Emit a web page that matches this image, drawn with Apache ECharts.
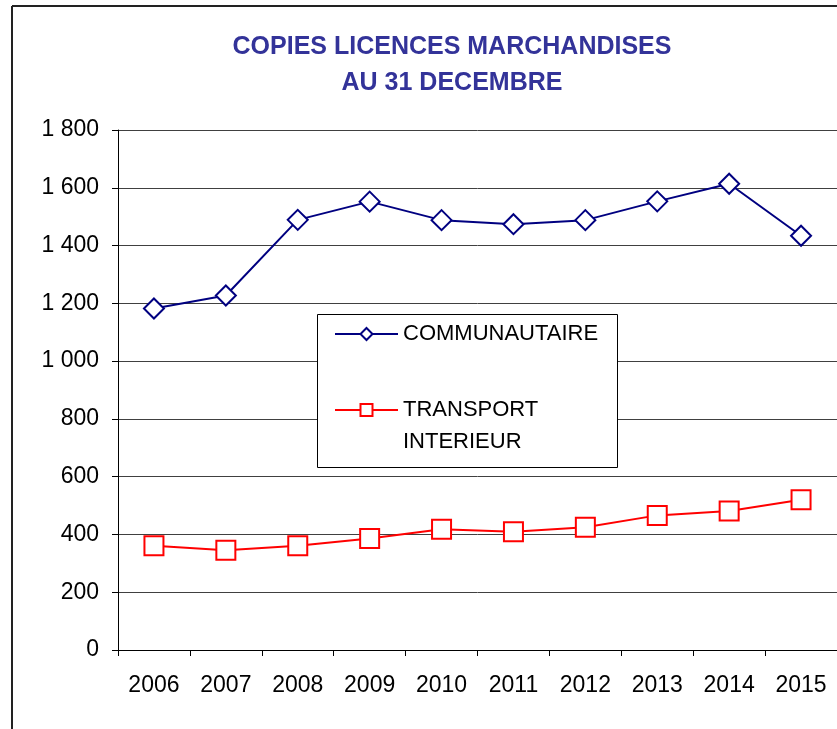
<!DOCTYPE html>
<html>
<head>
<meta charset="utf-8">
<script src="https://cdn.jsdelivr.net/npm/echarts@6/dist/echarts.min.js"></script>
<style>
  html, body { margin: 0; padding: 0; background: #fff; }
  #chart { width: 837px; height: 729px; }
</style>
</head>
<body>
<div id="chart"></div>
<script>
var years = ['2006', '2007', '2008', '2009', '2010', '2011', '2012', '2013', '2014', '2015'];
var communautaire = [1182, 1227, 1489, 1552, 1488, 1474, 1488, 1553, 1614, 1434];
var transport = [361, 345, 361, 386, 418, 409, 425, 466, 481, 520];
var seriesNames = ['COMMUNAUTAIRE', 'TRANSPORT INTERIEUR'];
var titleLines = ['COPIES LICENCES MARCHANDISES', 'AU 31 DECEMBRE'];

var FONT = '"Liberation Sans", Arial, sans-serif';

var chart = echarts.init(document.getElementById('chart'));

// "1800" -> "1 800"
var fmt_thousands = function (v) {
    return String(v).replace(/\B(?=(\d{3})+(?!\d))/g, ' ');
};

var option = {
    animation: false,
    backgroundColor: '#fff',
    title: {
        text: titleLines.join('\n'),
        left: 452,
        top: 29,
        padding: 0,
        textAlign: 'center',
        textStyle: {
            fontFamily: FONT,
            fontSize: 25,
            fontWeight: 'bold',
            color: '#333399',
            lineHeight: 36
        }
    },
    grid: {
        left: 118,
        right: 0,
        top: 130,
        bottom: 79,
        containLabel: false
    },
    legend: {
        orient: 'vertical',
        left: 334,
        top: 318,
        padding: 0,
        itemWidth: 63,
        itemHeight: 15,
        itemGap: 12,
        data: seriesNames,
        // blank first line keeps the icon level with "TRANSPORT"
        formatter: function (name) {
            return name === seriesNames[1] ? ' \nTRANSPORT\nINTERIEUR' : name;
        },
        textStyle: {
            fontFamily: FONT,
            fontSize: 22,
            color: '#000',
            lineHeight: 32
        }
    },
    xAxis: {
        type: 'category',
        data: years,
        boundaryGap: true,
        axisLine: { lineStyle: { color: '#000', width: 1 } },
        axisTick: { show: true, length: 6, alignWithLabel: false, lineStyle: { color: '#000' } },
        axisLabel: {
            margin: 24,
            fontFamily: FONT,
            fontSize: 23,
            color: '#000'
        },
        splitLine: { show: false }
    },
    yAxis: {
        type: 'value',
        min: 0,
        max: 1800,
        interval: 200,
        axisLine: { show: true, lineStyle: { color: '#000', width: 1 } },
        axisTick: { show: true, length: 6, inside: false, lineStyle: { color: '#000' } },
        axisLabel: {
            margin: 19,
            fontFamily: FONT,
            fontSize: 23,
            color: '#000',
            formatter: fmt_thousands
        },
        splitLine: { show: true, lineStyle: { color: '#404040', width: 1 } }
    },
    series: [
        {
            name: seriesNames[0],
            type: 'line',
            data: communautaire,
            symbol: 'diamond',
            symbolSize: 20,
            showAllSymbol: true,
            lineStyle: { color: '#000080', width: 2 },
            itemStyle: { color: '#fff', borderColor: '#000080', borderWidth: 2 },
            emphasis: { disabled: true }
        },
        {
            name: seriesNames[1],
            type: 'line',
            data: transport,
            symbol: 'rect',
            symbolSize: 19,
            showAllSymbol: true,
            lineStyle: { color: '#ff0000', width: 2 },
            itemStyle: { color: '#fff', borderColor: '#ff0000', borderWidth: 2 },
            emphasis: { disabled: true }
        }
    ],
    graphic: [
        // outer frame (top and left edges only, as in the scan)
        { type: 'line', shape: { x1: 12, y1: 6, x2: 837, y2: 6 }, style: { stroke: '#222', lineWidth: 2 } },
        { type: 'line', shape: { x1: 12, y1: 6, x2: 12, y2: 729 }, style: { stroke: '#222', lineWidth: 2 } },
        // legend box
        { type: 'rect', shape: { x: 317.5, y: 314.5, width: 300, height: 153 }, style: { fill: '#fff', stroke: '#000', lineWidth: 1 }, z: 3 }
    ]
};

chart.setOption(option);
</script>
</body>
</html>
